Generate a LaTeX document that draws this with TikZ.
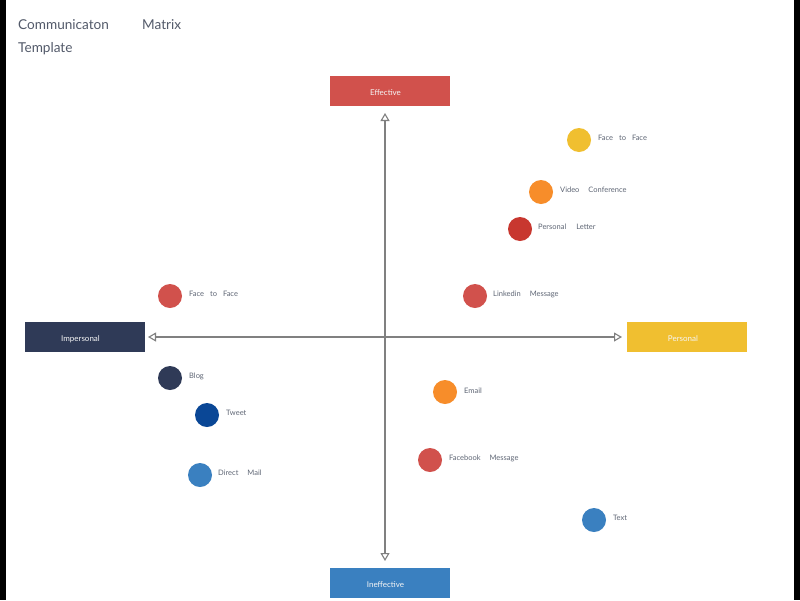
\documentclass[tikz,border=0pt]{standalone}
\usepackage{fontspec}
\setmainfont{Lato}
\usetikzlibrary{arrows.meta}
\definecolor{cred}{HTML}{D1514C}
\definecolor{cdred}{HTML}{C8372F}
\definecolor{cnavy}{HTML}{2F3A57}
\definecolor{cyel}{HTML}{F0BF30}
\definecolor{cblue}{HTML}{3A80C0}
\definecolor{cdblue}{HTML}{0A4796}
\definecolor{corange}{HTML}{F78D2A}
\definecolor{ctext}{HTML}{5F6675}
\definecolor{ctitle}{HTML}{535A6A}
\definecolor{caxis}{HTML}{808080}
\tikzset{
  box/.style={minimum width=120pt, minimum height=30pt, inner sep=0pt, text height=9.5pt, text depth=0pt, font=\fontsize{8}{9}\selectfont, text=white!92!gray},
  dot/.style={circle, minimum size=24pt, inner sep=0pt},
  lbl/.style={anchor=west, inner sep=0pt, text=ctext, font=\fontsize{7.5}{9}\selectfont},
  ttl/.style={anchor=west, inner sep=0pt, text=ctitle, font=\fontsize{13.6}{15}\selectfont},
  axis/.style={draw=caxis, line width=1.4pt, {Triangle[open,length=8pt,width=9pt,line width=1.1pt]}-{Triangle[open,length=8pt,width=9pt,line width=1.1pt]}}
}
\newcommand{\gap}[1]{\hspace*{#1pt}}
\newcommand{\bt}[1]{\hspace*{-8pt}#1}
\begin{document}
\begin{tikzpicture}[x=1pt,y=-1pt]
\useasboundingbox (0,0) rectangle (800,600);
\fill[white] (0,0) rectangle (800,600);
\fill[black] (0,0) rectangle (6,600);
\fill[black] (794,0) rectangle (800,600);
% title
\node[ttl] (t1) at (18,25) {Communicaton};
\node[ttl] (t2) at (142,25) {Matrix};
\node[ttl] (t3) at (18,49) {Template};
% boxes
\node[box, fill=cred] (eff) at (389.5,91) {\bt{Effective}};
\node[box, fill=cnavy] (imp) at (84.5,337) {\bt{Impersonal}};
\node[box, fill=cyel] (per) at (687,337) {\bt{Personal}};
\node[box, fill=cblue] (ineff) at (389.5,582.5) {\bt{Ineffective}};
% axes
\coordinate (top) at (385,113);
\coordinate (bot) at (385,561);
\coordinate (lft) at (148,337);
\coordinate (rgt) at (622,337);
\draw[axis] (top) -- (bot);
\draw[axis] (lft) -- (rgt);
% dots
\node[dot, fill=cyel] (d1) at (579,140) {};
\node[lbl] (l1) at (598,138) {Face\gap{6}to\gap{6}Face};
\node[dot, fill=corange] (d2) at (541,192) {};
\node[lbl] (l2) at (560,190) {Video\gap{9}Conference};
\node[dot, fill=cdred] (d3) at (520,229) {};
\node[lbl] (l3) at (538,227) {Personal\gap{10}Letter};
\node[dot, fill=cred] (d4) at (475,296) {};
\node[lbl] (l4) at (493,294) {Linkedin\gap{9}Message};
\node[dot, fill=cred] (d5) at (170,296) {};
\node[lbl] (l5) at (189,294) {Face\gap{6}to\gap{6}Face};
\node[dot, fill=cnavy] (d6) at (170,378) {};
\node[lbl] (l6) at (189,376) {Blog};
\node[dot, fill=cdblue] (d7) at (207,415) {};
\node[lbl] (l7) at (226,413) {Tweet};
\node[dot, fill=cblue] (d8) at (200,475) {};
\node[lbl] (l8) at (218,472.5) {Direct\gap{9}Mail};
\node[dot, fill=corange] (d9) at (445,392) {};
\node[lbl] (l9) at (464,390.5) {Email};
\node[dot, fill=cred] (d10) at (430,460) {};
\node[lbl] (l10) at (449,458) {Facebook\gap{9}Message};
\node[dot, fill=cblue] (d11) at (594,520) {};
\node[lbl] (l11) at (613,518) {Text};
\end{tikzpicture}
\end{document}
